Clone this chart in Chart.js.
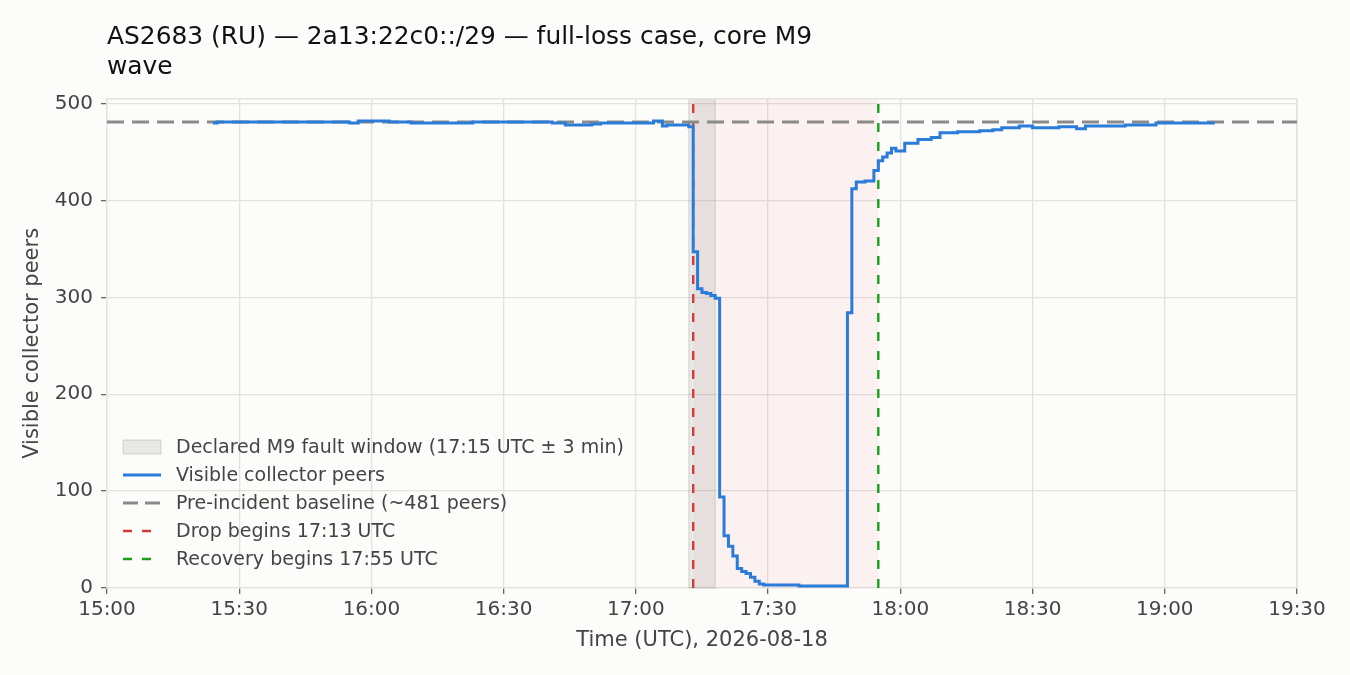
<!DOCTYPE html>
<html>
<head>
<meta charset="utf-8">
<script src="https://cdn.jsdelivr.net/npm/chart.js@4.4.1/dist/chart.umd.min.js"></script>
<style>
  body { margin: 0; background: #fcfcfb; }
  #wrap { width: 1350px; height: 675px; }
</style>
</head>
<body>
<div id="wrap"><canvas id="chart" width="1350" height="675"></canvas></div>
<script>
// sample times (UTC) and visible peer counts, step-post
var sampleTimes = ['15:24', '15:25', '15:55', '15:57', '16:04', '16:09', '16:23', '16:41', '16:44', '16:50',
	'16:52', '17:04', '17:06', '17:07', '17:12', '17:13', '17:14', '17:15', '17:16', '17:17',
	'17:18', '17:19', '17:20', '17:21', '17:22', '17:23', '17:24', '17:25', '17:26', '17:27',
	'17:28', '17:29', '17:37', '17:48', '17:49', '17:50', '17:52', '17:54', '17:55', '17:56',
	'17:57', '17:58', '17:59', '18:01', '18:04', '18:07', '18:09', '18:13', '18:18', '18:21',
	'18:23', '18:27', '18:30', '18:36', '18:40', '18:42', '18:48', '18:51', '18:58', '19:05', '19:11'];
var visiblePeers = [480, 481, 480, 482, 481, 480, 481, 480, 478, 479,
	480, 482, 477, 478, 476, 347, 309, 305, 304, 302,
	299, 94, 54, 43, 33, 20, 17, 15, 11, 7,
	4, 3, 2, 284, 412, 419, 420, 431, 441, 445,
	449, 454, 451, 459, 463, 465, 470, 471, 472, 473,
	475, 477, 475, 476, 474, 477, 477, 478, 480, 480, 481];

var baselinePeers = 481;
var axisRange = ['15:00', '19:30'];
var xTickTimes = ['15:00', '15:30', '16:00', '16:30', '17:00', '17:30', '18:00', '18:30', '19:00', '19:30'];
var yTicks = [0, 100, 200, 300, 400, 500];
var yMax = 505;
var faultWindow = ['17:12', '17:18'];
var outageSpan = ['17:13', '17:55'];
var dropTime = '17:13';
var recoveryTime = '17:55';

var legendLabels = [
	'Declared M9 fault window (17:15 UTC \u00b1 3 min)',
	'Visible collector peers',
	'Pre-incident baseline (~481 peers)',
	'Drop begins 17:13 UTC',
	'Recovery begins 17:55 UTC'
];

var FONT = "'DejaVu Sans', sans-serif";
var GRID = '#e4e2de';
var BLUE = '#2b7bd8';
var GREY = '#8a8a8a';
var RED = '#d43a3a';
var GREEN = '#18a018';

function toMin(s) {
	var p = s.split(':');
	return parseInt(p[0], 10) * 60 + parseInt(p[1], 10);
}
function fmt(v) {
	var h = Math.floor(v / 60), m = v % 60;
	return h + ':' + (m < 10 ? '0' : '') + m;
}

var peerPoints = [];
for (var i = 0; i < sampleTimes.length; i++) {
	peerPoints.push({x: toMin(sampleTimes[i]), y: visiblePeers[i]});
}
var xMin = toMin(axisRange[0]), xMax = toMin(axisRange[1]);

var spanPlugin = {
	id: 'spans',
	beforeDraw: function(chart) {
		var ctx = chart.ctx;
		ctx.save();
		ctx.fillStyle = '#fcfcfb';
		ctx.fillRect(0, 0, chart.width, chart.height);
		ctx.restore();
	},
	beforeDatasetsDraw: function(chart) {
		var ctx = chart.ctx, a = chart.chartArea, x = chart.scales.x;
		ctx.save();
		var x1 = x.getPixelForValue(toMin(outageSpan[0])), x2 = x.getPixelForValue(toMin(outageSpan[1]));
		ctx.fillStyle = 'rgba(214,39,40,0.05)';
		ctx.fillRect(x1, a.top, x2 - x1, a.bottom - a.top);
		x1 = x.getPixelForValue(toMin(faultWindow[0]));
		x2 = x.getPixelForValue(toMin(faultWindow[1]));
		ctx.fillStyle = 'rgba(128,128,128,0.16)';
		ctx.fillRect(x1, a.top, x2 - x1, a.bottom - a.top);
		ctx.strokeStyle = 'rgba(128,128,128,0.22)';
		ctx.lineWidth = 1.2;
		ctx.strokeRect(x1, a.top, x2 - x1, a.bottom - a.top);
		// frame top/right
		ctx.strokeStyle = GRID;
		ctx.lineWidth = 1.3;
		ctx.beginPath();
		ctx.moveTo(a.left, a.top);
		ctx.lineTo(a.right, a.top);
		ctx.lineTo(a.right, a.bottom);
		ctx.stroke();
		ctx.restore();
	},
	afterDraw: function(chart) {
		var ctx = chart.ctx, a = chart.chartArea;
		var hx = a.left + 16, tx = a.left + 69;
		var rows = [a.bottom - 141, a.bottom - 113, a.bottom - 85, a.bottom - 57, a.bottom - 29];
		ctx.save();
		// fault window patch
		ctx.fillStyle = 'rgba(128,128,128,0.16)';
		ctx.fillRect(hx, rows[0] - 7, 38, 14);
		ctx.strokeStyle = 'rgba(128,128,128,0.25)';
		ctx.lineWidth = 1.2;
		ctx.strokeRect(hx, rows[0] - 7, 38, 14);
		// lines
		var styles = [null,
			{c: BLUE, w: 3, d: []},
			{c: GREY, w: 3, d: [15, 7]},
			{c: RED, w: 2.4, d: [9, 10]},
			{c: GREEN, w: 2.4, d: [9, 10]}];
		for (var k = 1; k < styles.length; k++) {
			ctx.strokeStyle = styles[k].c;
			ctx.lineWidth = styles[k].w;
			ctx.setLineDash(styles[k].d);
			ctx.beginPath();
			ctx.moveTo(hx, rows[k]);
			ctx.lineTo(hx + 38, rows[k]);
			ctx.stroke();
		}
		ctx.setLineDash([]);
		ctx.fillStyle = '#444';
		ctx.font = '19px ' + FONT;
		ctx.textBaseline = 'middle';
		for (var j = 0; j < legendLabels.length; j++) {
			ctx.fillText(legendLabels[j], tx, rows[j] + 1);
		}
		ctx.restore();
	}
};

new Chart(document.getElementById('chart'), {
	type: 'line',
	data: {
		datasets: [{
			label: legendLabels[1],
			data: peerPoints,
			borderColor: BLUE,
			borderWidth: 3,
			stepped: 'before',
			pointRadius: 0,
			fill: false
		}, {
			label: legendLabels[2],
			data: [{x: xMin, y: baselinePeers}, {x: xMax, y: baselinePeers}],
			borderColor: GREY,
			borderWidth: 3,
			borderDash: [17, 8],
			pointRadius: 0
		}, {
			label: legendLabels[3],
			data: [{x: toMin(dropTime), y: 0}, {x: toMin(dropTime), y: yMax}],
			borderColor: RED,
			borderWidth: 2.4,
			borderDash: [9, 10],
			pointRadius: 0
		}, {
			label: legendLabels[4],
			data: [{x: toMin(recoveryTime), y: 0}, {x: toMin(recoveryTime), y: yMax}],
			borderColor: GREEN,
			borderWidth: 2.4,
			borderDash: [9, 10],
			pointRadius: 0
		}]
	},
	options: {
		responsive: false,
		animation: false,
		layout: {padding: {top: 0, right: 53, bottom: 0, left: 0}},
		plugins: {
			legend: {display: false},
			tooltip: {enabled: false},
			title: {
				display: true,
				fullSize: false,
				align: 'start',
				text: ['AS2683 (RU) \u2014 2a13:22c0::/29 \u2014 full-loss case, core M9', 'wave'],
				color: '#111',
				font: {family: FONT, size: 24.9, weight: 'normal', lineHeight: 1.2},
				padding: {top: 23, bottom: 16}
			}
		},
		scales: {
			x: {
				type: 'linear',
				min: xMin,
				max: xMax,
				afterBuildTicks: function(s) {
					s.ticks = xTickTimes.map(function(t) { return {value: toMin(t)}; });
				},
				afterFit: function(s) { s.height = 87; },
				ticks: {
					callback: function(v) { return fmt(v); },
					color: '#444',
					font: {family: FONT, size: 20},
					padding: 4,
					maxRotation: 0
				},
				grid: {color: GRID, lineWidth: 1.3, tickColor: '#666', tickLength: 6},
				border: {color: GRID, width: 1.3},
				title: {
					display: true,
					text: 'Time (UTC), 2026-08-18',
					color: '#444',
					font: {family: FONT, size: 21},
					padding: {top: 0, bottom: 22}
				}
			},
			y: {
				min: 0,
				max: yMax,
				afterBuildTicks: function(s) {
					s.ticks = yTicks.map(function(v) { return {value: v}; });
				},
				afterFit: function(s) { s.width = 107; },
				ticks: {
					color: '#444',
					font: {family: FONT, size: 20},
					padding: 8
				},
				grid: {color: GRID, lineWidth: 1.3, tickColor: '#666', tickLength: 6},
				border: {color: GRID, width: 1.3},
				title: {
					display: true,
					text: 'Visible collector peers',
					color: '#444',
					font: {family: FONT, size: 21},
					padding: {top: 20, bottom: 0}
				}
			}
		}
	},
	plugins: [spanPlugin]
});
</script>
</body>
</html>
